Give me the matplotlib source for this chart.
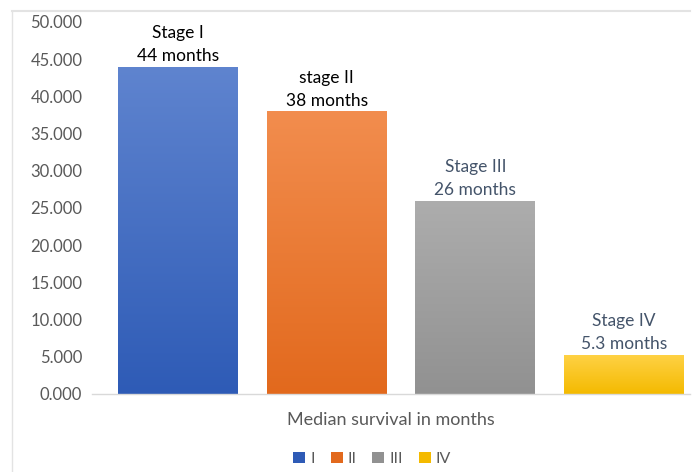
import numpy as np
import matplotlib.pyplot as plt
from matplotlib.patches import Patch
from matplotlib.colors import LinearSegmentedColormap
from matplotlib.lines import Line2D

plt.rcParams['font.family'] = ['Lato', 'DejaVu Sans']

# median survival per stage
stages = ['I', 'II', 'III', 'IV']
survival = [44, 38, 26, 5.3]
bar_labels = ['Stage I\n44 months', 'stage II\n38 months',
              'Stage III\n26 months', 'Stage IV\n5.3 months']
label_colors = ['#000000', '#000000', '#44546A', '#44546A']
# (top, bottom) colours for the gradient fill
grads = [('#5F84CF', '#2E5BB6'),
         ('#F28D4E', '#E2691D'),
         ('#ADADAD', '#919191'),
         ('#FFD246', '#F4BA00')]
yticks = np.arange(0, 50.1, 5)

fig = plt.figure(figsize=(6.99, 4.72), dpi=100)
ax = fig.add_axes([92 / 699, 78 / 472, 598 / 699, 372 / 472])

x = np.arange(len(stages))
bars = ax.bar(x, survival, width=0.807, color='none', edgecolor='none')

# gradient fill clipped to each bar
for b, (top, bot) in zip(bars, grads):
    cmap = LinearSegmentedColormap.from_list('g', [bot, top])
    grad = np.linspace(0, 1, 256).reshape(-1, 1)
    x0, y0 = b.get_x(), b.get_y()
    im = ax.imshow(grad, cmap=cmap, aspect='auto', origin='lower',
                   extent=[x0, x0 + b.get_width(), y0, y0 + b.get_height()],
                   zorder=2)
    im.set_clip_path(b)

for xi, v, txt, c in zip(x, survival, bar_labels, label_colors):
    ax.text(xi, v + 0.3, txt, ha='center', va='bottom', fontsize=12.5,
            color=c, linespacing=1.55, zorder=3)

ax.set_xlim(-0.578, 3.444)
ax.set_ylim(0, 50)
ax.set_yticks(yticks)
ax.set_yticklabels([f'{t:.3f}' for t in yticks], fontsize=12, color='#595959')
ax.set_xticks([])
ax.tick_params(axis='y', length=0, pad=7)
for s in ['top', 'right', 'left']:
    ax.spines[s].set_visible(False)
ax.spines['bottom'].set_color('#D9D9D9')
ax.spines['bottom'].set_linewidth(1.0)
ax.set_xlabel('Median survival in months', fontsize=13, color='#595959',
              labelpad=13)

# chart frame lines
fig.add_artist(Line2D([12 / 699, 690 / 699], [1 - 11 / 472, 1 - 11 / 472],
                      color='#E3E3E3', lw=1.5))
fig.add_artist(Line2D([12 / 699, 12 / 699], [0, 1 - 11 / 472],
                      color='#E3E3E3', lw=1.0))

handles = [Patch(facecolor=bot, edgecolor='none') for _, bot in grads]
fig.legend(handles, stages, loc='center', ncol=4, frameon=False,
           bbox_to_anchor=(372 / 699, 13 / 472), fontsize=11.5,
           labelcolor='#595959', handlelength=0.75, handleheight=0.75,
           handletextpad=0.3, columnspacing=1.0)

fig.savefig('out.png', dpi=100)
